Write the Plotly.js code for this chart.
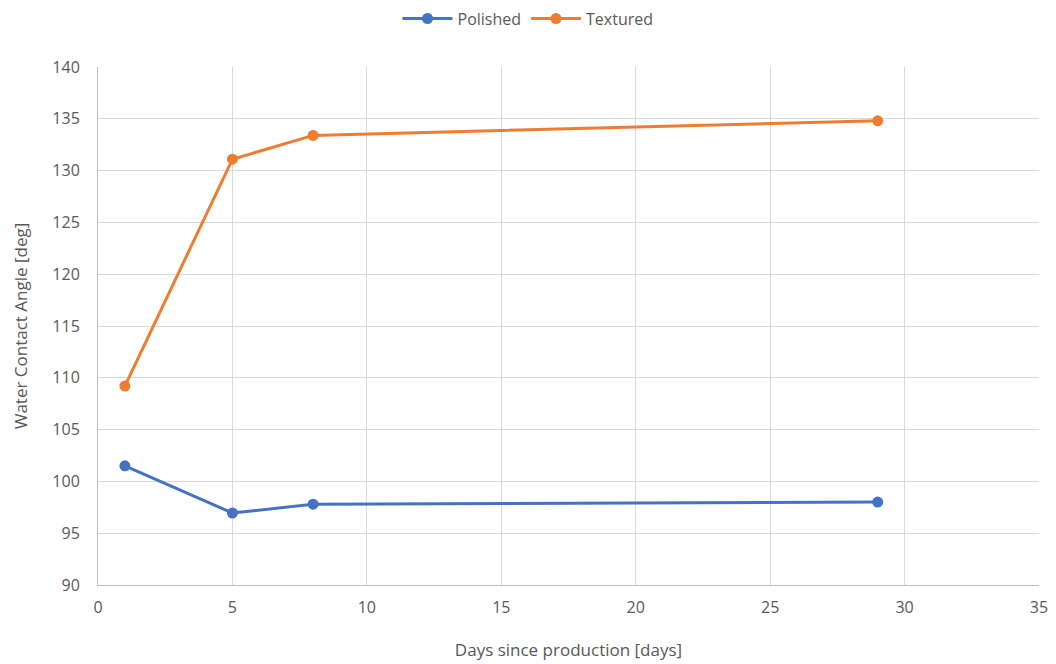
<!DOCTYPE html>
<html>
<head>
<meta charset="utf-8">
<script src="https://cdn.plot.ly/plotly-3.0.1.min.js"></script>
<style>html,body{margin:0;padding:0;background:#fff;}#chart{width:1056px;height:664px;}</style>
</head>
<body>
<div id="chart"></div>
<script>
const days = [1, 5, 8, 29];
const polished = [101.5, 96.95, 97.8, 98.0];
const textured = [109.2, 131.1, 133.4, 134.8];
const seriesNames = ["Polished", "Textured"];

const traces = [
  {x: days, y: polished, name: seriesNames[0], type: 'scatter', mode: 'lines+markers',
   line: {color: '#4472C4', width: 3}, marker: {color: '#4472C4', size: 11}},
  {x: days, y: textured, name: seriesNames[1], type: 'scatter', mode: 'lines+markers',
   line: {color: '#ED7D31', width: 3}, marker: {color: '#ED7D31', size: 11}}
];

const layout = {
  width: 1056, height: 664,
  margin: {l: 98, r: 17, t: 67, b: 79},
  paper_bgcolor: '#fff', plot_bgcolor: '#fff',
  font: {family: 'Open Sans, sans-serif', color: '#595959', size: 15},
  showlegend: true,
  legend: {orientation: 'h', x: 0.5, xanchor: 'center', xref: 'container',
           y: 0.972, yanchor: 'middle', yref: 'container', itemwidth: 50,
           font: {size: 16, color: '#595959'}},
  xaxis: {
    range: [0, 35], dtick: 5, tick0: 0,
    showgrid: true, gridcolor: '#d9d9d9', gridwidth: 1,
    zeroline: false, showline: true, linecolor: '#bfbfbf', linewidth: 1,
    ticks: '', ticklen: 0, ticklabelstandoff: 8,
    tickfont: {size: 16, color: '#595959'},
    title: {text: 'Days since production [days]', font: {size: 17, color: '#595959'}, standoff: 26}
  },
  yaxis: {
    range: [90, 140], dtick: 5, tick0: 90,
    showgrid: true, gridcolor: '#d9d9d9', gridwidth: 1,
    zeroline: false, showline: true, linecolor: '#bfbfbf', linewidth: 1,
    ticks: '', ticklabelstandoff: 14, tickfont: {size: 16, color: '#595959'},
    title: {text: 'Water Contact Angle [deg]', font: {size: 17, color: '#595959'}, standoff: 20}
  }
};

Plotly.newPlot('chart', traces, layout, {displayModeBar: false});
</script>
</body>
</html>
